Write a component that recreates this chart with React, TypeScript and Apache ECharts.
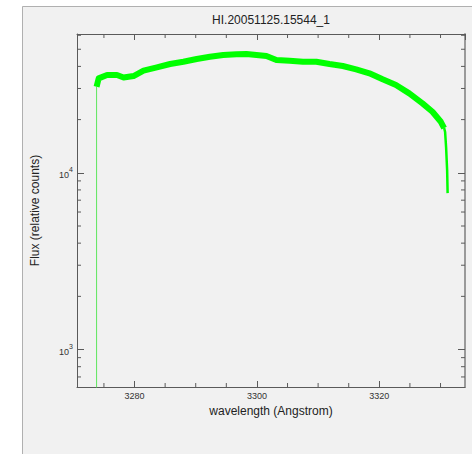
import React, { useEffect, useRef } from "react";
import * as echarts from "echarts";

const chartTitle = "HI.20051125.15544_1";
const xName = "wavelength (Angstrom)";
const yName = "Flux (relative counts)";

// main spectrum band
const bandWavelength = [
  3273.8, 3274.14, 3275.51, 3277.13, 3278.21, 3279.84, 3281.47, 3283.65, 3285.81, 3287.98,
  3290.16, 3292.32, 3294.49, 3296.67, 3298.3, 3299.93, 3301.56, 3303.18, 3305.35, 3307.52,
  3309.7, 3311.86, 3314.03, 3316.21, 3318.38, 3320.54, 3322.72, 3324.89, 3327.05, 3328.68,
  3330.05, 3330.59,
];
const bandFlux = [
  30690, 34230, 35740, 35740, 34600, 35280, 37810, 39520, 41260, 42510,
  44040, 45380, 46400, 46820, 47000, 46400, 45790, 43480, 43070, 42510,
  42510, 41260, 40200, 38510, 36550, 33800, 31380, 28160, 24710, 22150,
  19440, 17910,
];
// red-end drop-off
const tailWavelength = [3330.59, 3330.75, 3330.91, 3331.08, 3331.16];
const tailFlux = [17910, 17000, 13980, 10360, 7675];
// blue-end rise
const edgeWavelength = [3273.8, 3273.8];
const edgeFlux = [300, 30690];

const xMin = 3270.6;
const xMax = 3334;
const yMin = 614;
const yMax = 61000;
const xMajorStep = 20;
const xMinorTicks = [3275, 3285, 3290, 3295, 3305, 3310, 3315, 3325, 3330];
const yMinorTicks = [700, 800, 900, 2000, 3000, 4000, 5000, 6000, 7000, 8000, 9000, 20000, 30000, 40000, 50000, 60000];

const axisColor = "#5a5a5a";
const font = '"Liberation Sans", Arial, sans-serif';

export default function App() {
  const ref = useRef<HTMLDivElement>(null);
  useEffect(() => {
    document.body.style.margin = "0";
    if (!ref.current) return;
    const chart = echarts.init(ref.current, undefined, { renderer: "svg" });
    const zip = (a: number[], b: number[]) => a.map((v, i) => [v, b[i]]);

    const commonX = {
      type: "value" as const,
      min: xMin,
      max: xMax,
      minInterval: xMajorStep,
      maxInterval: xMajorStep,
      splitLine: { show: false },
      axisLine: { lineStyle: { color: axisColor, width: 1 } },
      axisTick: { inside: true, length: 6, lineStyle: { color: axisColor } },
    };
    const commonY = {
      type: "log" as const,
      logBase: 10,
      min: yMin,
      max: yMax,
      splitLine: { show: false },
      axisLine: { lineStyle: { color: axisColor, width: 1 } },
      axisTick: { inside: true, length: 7, lineStyle: { color: axisColor } },
    };

    const option: any = {
      animation: false,
      backgroundColor: "#f1f1f1",
      textStyle: { fontFamily: font },
      graphic: [
        { type: "rect", silent: true, shape: { x: 0, y: 0, width: 22, height: 454 }, style: { fill: "#ffffff" } },
        { type: "rect", silent: true, shape: { x: 0, y: 0, width: 472, height: 6 }, style: { fill: "#ffffff" } },
        { type: "line", silent: true, shape: { x1: 22.5, y1: 6.5, x2: 22.5, y2: 454 }, style: { stroke: "#b0b0b0", lineWidth: 1 } },
        { type: "line", silent: true, shape: { x1: 22.5, y1: 6.5, x2: 472, y2: 6.5 }, style: { stroke: "#b0b0b0", lineWidth: 1 } },
        {
          type: "text",
          x: 271,
          y: 20,
          style: {
            text: chartTitle,
            fill: "#222222",
            font: `12px ${font}`,
            textAlign: "center",
            textVerticalAlign: "middle",
          },
        },
      ],
      grid: { left: 77, top: 34, right: 7, bottom: 67 },
      xAxis: [
        {
          ...commonX,
          position: "bottom",
          name: xName,
          nameLocation: "middle",
          nameGap: 16,
          nameTextStyle: { fontSize: 12, color: "#222222", fontFamily: font },
          axisLabel: {
            fontSize: 9,
            color: "#333333",
            margin: 4,
            showMinLabel: false,
            showMaxLabel: false,
            formatter: (v: number) => String(Math.round(v)),
          },
        },
        { ...commonX, position: "top", axisLabel: { show: false } },
      ],
      yAxis: [
        {
          ...commonY,
          position: "left",
          name: yName,
          nameLocation: "middle",
          nameGap: 36,
          nameRotate: 90,
          nameTextStyle: { fontSize: 12, color: "#222222", fontFamily: font },
          axisLabel: {
            margin: 4,
            showMinLabel: false,
            showMaxLabel: false,
            formatter: (v: number) => `{b|10}{s|${Math.round(Math.log10(v))}}`,
            rich: {
              b: { fontSize: 9, color: "#333333", lineHeight: 14, verticalAlign: "bottom" },
              s: { fontSize: 7, color: "#333333", lineHeight: 14, verticalAlign: "top" },
            },
          },
        },
        {
          ...commonY,
          position: "right",
          axisLine: { lineStyle: { color: "#9a9a9a", width: 2 } },
          axisLabel: { show: false },
        },
      ],
      series: [
        {
          type: "custom",
          coordinateSystem: "cartesian2d",
          xAxisIndex: 0,
          yAxisIndex: 0,
          silent: true,
          clip: false,
          data: xMinorTicks.map((v) => [v, 1000]),
          renderItem: (params: any, api: any) => {
            const cs = params.coordSys;
            const x = api.coord([api.value(0), 1000])[0];
            const top = cs.y;
            const bottom = cs.y + cs.height;
            const st = { stroke: axisColor, lineWidth: 1 };
            return {
              type: "group",
              children: [
                { type: "line", shape: { x1: x, y1: bottom, x2: x, y2: bottom - 4 }, style: st },
                { type: "line", shape: { x1: x, y1: top, x2: x, y2: top + 4 }, style: st },
              ],
            };
          },
        },
        {
          type: "custom",
          coordinateSystem: "cartesian2d",
          xAxisIndex: 0,
          yAxisIndex: 0,
          silent: true,
          clip: false,
          data: yMinorTicks.map((v) => [3300, v]),
          renderItem: (params: any, api: any) => {
            const cs = params.coordSys;
            const y = api.coord([3300, api.value(1)])[1];
            const left = cs.x;
            const right = cs.x + cs.width;
            const st = { stroke: axisColor, lineWidth: 1 };
            return {
              type: "group",
              children: [
                { type: "line", shape: { x1: left, y1: y, x2: left + 4, y2: y }, style: st },
                { type: "line", shape: { x1: right, y1: y, x2: right - 4, y2: y }, style: st },
              ],
            };
          },
        },
        {
          type: "line",
          data: zip(edgeWavelength, edgeFlux),
          showSymbol: false,
          lineStyle: { color: "#5ee65e", width: 1 },
          clip: true,
          z: 3,
        },
        {
          type: "line",
          data: zip(bandWavelength, bandFlux),
          showSymbol: false,
          lineStyle: { color: "#00ff00", width: 6, join: "round" },
          clip: true,
          z: 4,
        },
        {
          type: "line",
          data: zip(tailWavelength, tailFlux),
          showSymbol: false,
          lineStyle: { color: "#00ff00", width: 2.5 },
          clip: true,
          z: 4,
        },
      ],
    };
    chart.setOption(option);
    return () => chart.dispose();
  }, []);
  return <div ref={ref} style={{ width: 472, height: 454 }} />;
}
